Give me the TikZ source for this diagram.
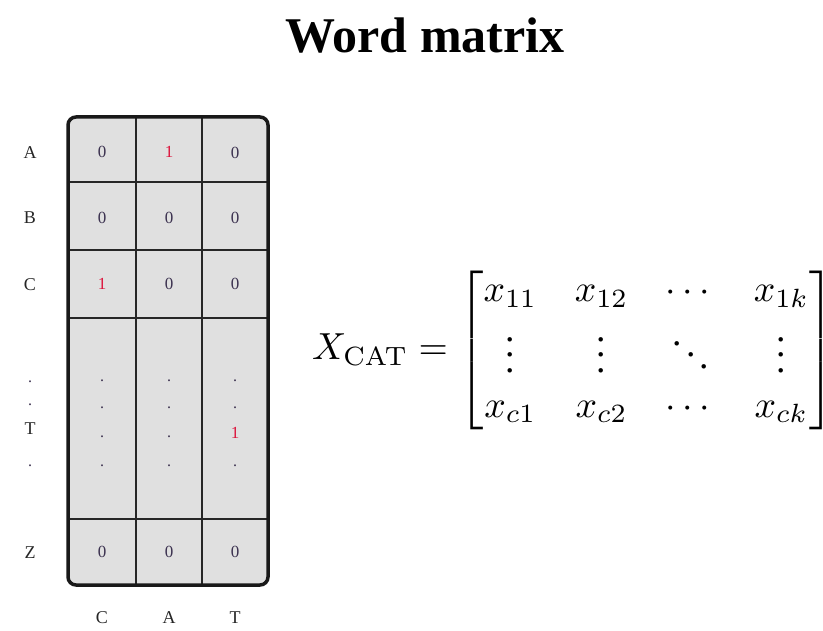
\documentclass[tikz,border=0pt]{standalone}
\usepackage{amsmath}
\usepackage{graphicx}
\usepackage[no-math]{fontspec}
\setmainfont{Liberation Serif}
\definecolor{cellgray}{RGB}{224,224,224}
\definecolor{onered}{RGB}{220,20,60}
\definecolor{zerocol}{RGB}{60,50,80}
\begin{document}
\begin{tikzpicture}[x=1pt,y=-1pt,
  cell/.style={font=\fontsize{17}{20}\selectfont, text=zerocol, inner sep=0pt},
  one/.style={cell, text=onered},
  lab/.style={font=\fontsize{18}{21}\selectfont, text=black!85, inner sep=0pt},
  dotn/.style={font=\fontsize{16}{19}\selectfont, text=zerocol, inner sep=0pt, anchor=base},
  gridline/.style={line width=1.6pt, draw=black!85},
  frame/.style={line width=3.5pt, draw=black!90, rounded corners=8pt}]
\useasboundingbox (0,0) rectangle (823,631);
% title
\node[font=\fontsize{50}{58}\selectfont\bfseries] (title) at (425,36) {Word matrix};
% matrix body
\fill[cellgray, rounded corners=8pt] (68,117) rectangle (268,585);
\draw[gridline] (136,117) -- (136,585);
\draw[gridline] (202,117) -- (202,585);
\draw[gridline] (68,182) -- (268,182);
\draw[gridline] (68,250) -- (268,250);
\draw[gridline] (68,318) -- (268,318);
\draw[gridline] (68,519) -- (268,519);
\draw[frame] (68,117) rectangle (268,585);
% row labels
\node[lab] (rA) at (30,153) {A};
\node[lab] (rB) at (30,218) {B};
\node[lab] (rC) at (30,285) {C};
\node[dotn] (rd1) at (30,383) {.};
\node[dotn] (rd2) at (30,406) {.};
\node[lab] (rT) at (30,429) {T};
\node[dotn] (rd3) at (30,466) {.};
\node[lab] (rZ) at (30,553) {Z};
% column labels
\node[lab] (cC) at (102,618) {C};
\node[lab] (cA) at (169,618) {A};
\node[lab] (cT) at (235,618) {T};
% cells
\node[cell] (a1) at (102,152) {0};
\node[one]  (a2) at (169,152) {1};
\node[cell] (a3) at (235,153) {0};
\node[cell] (b1) at (102,218) {0};
\node[cell] (b2) at (169,218) {0};
\node[cell] (b3) at (235,218) {0};
\node[one]  (c1) at (102,284) {1};
\node[cell] (c2) at (169,284) {0};
\node[cell] (c3) at (235,284) {0};
\node[dotn] (d11) at (102,382) {.};
\node[dotn] (d12) at (102,409) {.};
\node[dotn] (d13) at (102,437) {.};
\node[dotn] (d14) at (102,466) {.};
\node[dotn] (d21) at (169,382) {.};
\node[dotn] (d22) at (169,409) {.};
\node[dotn] (d23) at (169,437) {.};
\node[dotn] (d24) at (169,466) {.};
\node[dotn] (d31) at (235,382) {.};
\node[dotn] (d32) at (235,409) {.};
\node[one]  (t3) at (235,433) {1};
\node[dotn] (d34) at (235,466) {.};
\node[cell] (z1) at (102,552) {0};
\node[cell] (z2) at (169,552) {0};
\node[cell] (z3) at (235,552) {0};
% equation
\node[anchor=west, inner sep=0pt] (eq) at (312,350.5)
  {\scalebox{3.77}{$X_{\mathrm{CAT}} = \begin{bmatrix} x_{11} & x_{12} & \cdots & x_{1k}\\ \vdots & \vdots & \ddots & \vdots\\ x_{c1} & x_{c2} & \cdots & x_{ck}\end{bmatrix}$}};
\end{tikzpicture}
\end{document}
